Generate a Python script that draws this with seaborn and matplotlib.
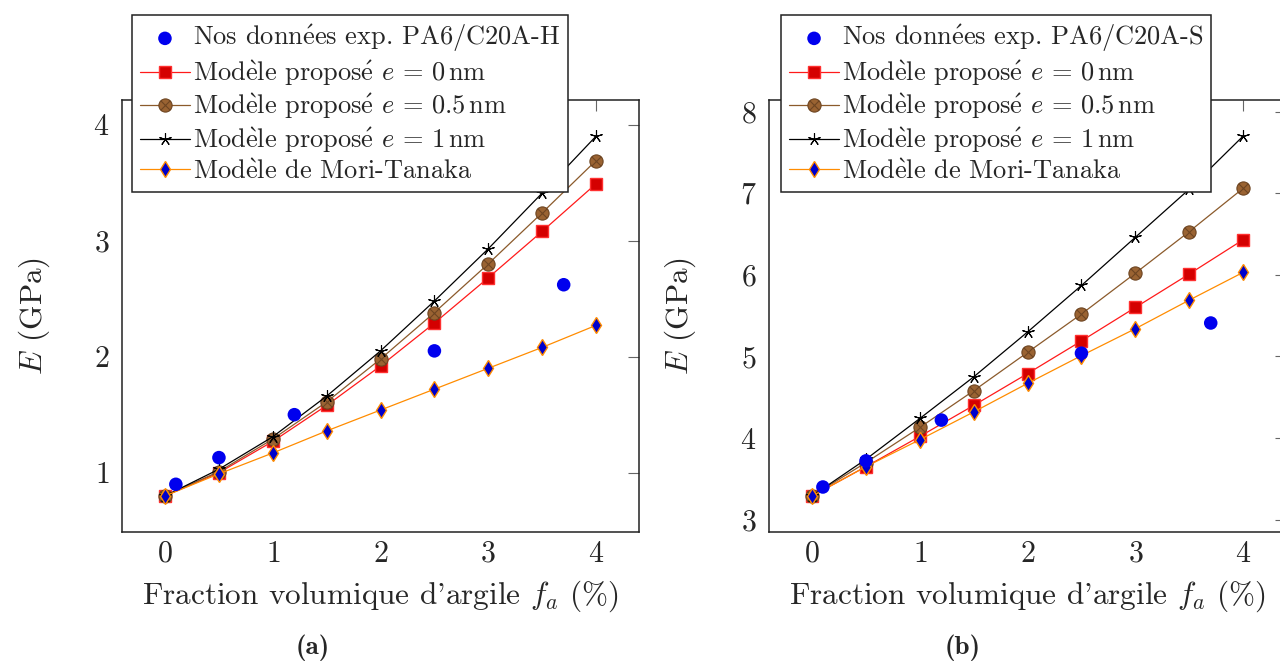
import numpy as np
import pandas as pd
import matplotlib
matplotlib.use("Agg")
import matplotlib.pyplot as plt
from matplotlib.path import Path
import seaborn as sns

# ==============================================================================
# DATA
# ==============================================================================
fa = [0, 0.5, 1, 1.5, 2, 2.5, 3, 3.5, 4]

# (a) PA6/C20A-H
exp_x_a = [0.1, 0.5, 1.2, 2.5, 3.7]
exp_y_a = [0.90, 1.13, 1.50, 2.05, 2.62]
e0_a = [0.80, 1.00, 1.27, 1.58, 1.92, 2.29, 2.68, 3.08, 3.49]
e05_a = [0.80, 1.01, 1.29, 1.61, 1.98, 2.38, 2.80, 3.24, 3.69]
e1_a = [0.80, 1.03, 1.31, 1.66, 2.05, 2.48, 2.93, 3.41, 3.90]
mt_a = [0.80, 0.99, 1.17, 1.36, 1.54, 1.72, 1.90, 2.08, 2.27]

# (b) PA6/C20A-S
exp_x_b = [0.1, 0.5, 1.2, 2.5, 3.7]
exp_y_b = [3.40, 3.72, 4.22, 5.04, 5.41]
e0_b = [3.29, 3.65, 4.02, 4.40, 4.79, 5.19, 5.60, 6.01, 6.43]
e05_b = [3.29, 3.70, 4.13, 4.58, 5.05, 5.52, 6.02, 6.53, 7.06]
e1_b = [3.29, 3.74, 4.24, 4.75, 5.30, 5.87, 6.46, 7.05, 7.70]
mt_b = [3.29, 3.65, 3.98, 4.32, 4.67, 5.01, 5.34, 5.69, 6.03]

# labels (accents through mathtext, cmr10 has no é/è)
E_AC = r"$\acute{\mathrm{e}}$"
E_GR = r"$\grave{\mathrm{e}}$"
MODELE = "Mod" + E_GR + "le"
lab_exp_a = "Nos donn" + E_AC + "es exp. PA6/C20A-H"
lab_exp_b = "Nos donn" + E_AC + "es exp. PA6/C20A-S"
lab_e0 = MODELE + " propos" + E_AC + r" $e\,=\,0\,\mathrm{nm}$"
lab_e05 = MODELE + " propos" + E_AC + r" $e\,=\,0.5\,\mathrm{nm}$"
lab_e1 = MODELE + " propos" + E_AC + r" $e\,=\,1\,\mathrm{nm}$"
lab_mt = MODELE + " de Mori-Tanaka"
xlab = r"Fraction volumique d'argile $f_a$ (%)"
ylab = r"$E$ (GPa)"
captions = ["(a)", "(b)"]

# ==============================================================================
# STYLE
# ==============================================================================
sns.set_theme(style="white")
plt.rcParams['font.family'] = ['cmr10', 'DejaVu Serif']
plt.rcParams['mathtext.fontset'] = 'cm'
plt.rcParams['axes.unicode_minus'] = False
plt.rcParams['axes.formatter.use_mathtext'] = True

FS_TICK = 21.5
FS_LAB = 22.5
FS_LEG = 19

# circle with a cross inside (pgfplots otimes*)
_c = Path.unit_circle()
_k = 0.7071
_x = Path([(-_k, -_k), (_k, _k), (-_k, _k), (_k, -_k)],
          [Path.MOVETO, Path.LINETO, Path.MOVETO, Path.LINETO])
otimes = Path.make_compound_path(_c, _x)

star = (5, 2, 0)


def draw_panel(ax, exp_x, exp_y, e0, e05, e1, mt, label_exp, ylim, yticks):
    df = pd.DataFrame({"fa": fa, "e0": e0, "e05": e05, "e1": e1, "mt": mt})
    sns.scatterplot(x=exp_x, y=exp_y, ax=ax, color="#0000ee", s=95,
                    edgecolor="none", label=label_exp, zorder=5)
    sns.lineplot(data=df, x="fa", y="e0", ax=ax, color="#ff1a1a", lw=0.9,
                 marker="s", markersize=8.5, markerfacecolor="#d40000",
                 markeredgecolor="#ff3030", markeredgewidth=1.0, label=lab_e0)
    sns.lineplot(data=df, x="fa", y="e05", ax=ax, color="#8b5a2b", lw=0.9,
                 marker=otimes, markersize=9.5, markerfacecolor="#9a6332",
                 markeredgecolor="#6e4522", markeredgewidth=0.8, label=lab_e05)
    sns.lineplot(data=df, x="fa", y="e1", ax=ax, color="black", lw=0.9,
                 marker=star, markersize=9, markeredgewidth=0.8,
                 markeredgecolor="black", label=lab_e1)
    sns.lineplot(data=df, x="fa", y="mt", ax=ax, color="#ff8c00", lw=0.9,
                 marker="d", markersize=8.5, markerfacecolor="#0000cc",
                 markeredgecolor="#ff8c00", markeredgewidth=1.0, label=lab_mt)

    ax.set_xlim(-0.4, 4.4)
    ax.set_ylim(*ylim)
    ax.set_xticks([0, 1, 2, 3, 4])
    ax.set_yticks(yticks)
    ax.set_xlabel(xlab, fontsize=FS_LAB, labelpad=8)
    ax.set_ylabel(ylab, fontsize=FS_LAB, labelpad=30)
    ax.tick_params(direction="in", top=True, right=True, length=8, width=0.8,
                   color="#666666", labelsize=FS_TICK)
    ax.tick_params(axis="y", pad=9)
    ax.tick_params(axis="x", pad=6)
    for s in ax.spines.values():
        s.set_color("#222222")
        s.set_linewidth(1.1)


fig = plt.figure(figsize=(12.8, 6.64), dpi=100)
ax1 = fig.add_axes([0.0953, 0.199, 0.404, 0.650])
ax2 = fig.add_axes([0.6008, 0.199, 0.404, 0.650])

draw_panel(ax1, exp_x_a, exp_y_a, e0_a, e05_a, e1_a, mt_a,
           lab_exp_a, (0.49, 4.21), [1, 2, 3, 4])
draw_panel(ax2, exp_x_b, exp_y_b, e0_b, e05_b, e1_b, mt_b,
           lab_exp_b, (2.85, 8.14), [3, 4, 5, 6, 7, 8])

for ax, x0 in [(ax1, 0.1031), (ax2, 0.6102)]:
    leg = ax.legend(loc="upper left", bbox_to_anchor=(x0, 0.9774),
                    bbox_transform=fig.transFigure, fontsize=FS_LEG,
                    frameon=True, fancybox=False, framealpha=1,
                    edgecolor="#222222", borderpad=0.3, labelspacing=0.16,
                    handlelength=1.9, handletextpad=0.1, borderaxespad=0)
    leg.get_frame().set_linewidth(1.1)
    leg.set_zorder(10)

for cap, xc in zip(captions, [313, 963]):
    fig.text(xc / 1280, 1 - 648 / 664, cap, ha="center", va="center",
             fontsize=19.5, family="cmb10")

plt.savefig("out.png", dpi=100)
plt.close()
